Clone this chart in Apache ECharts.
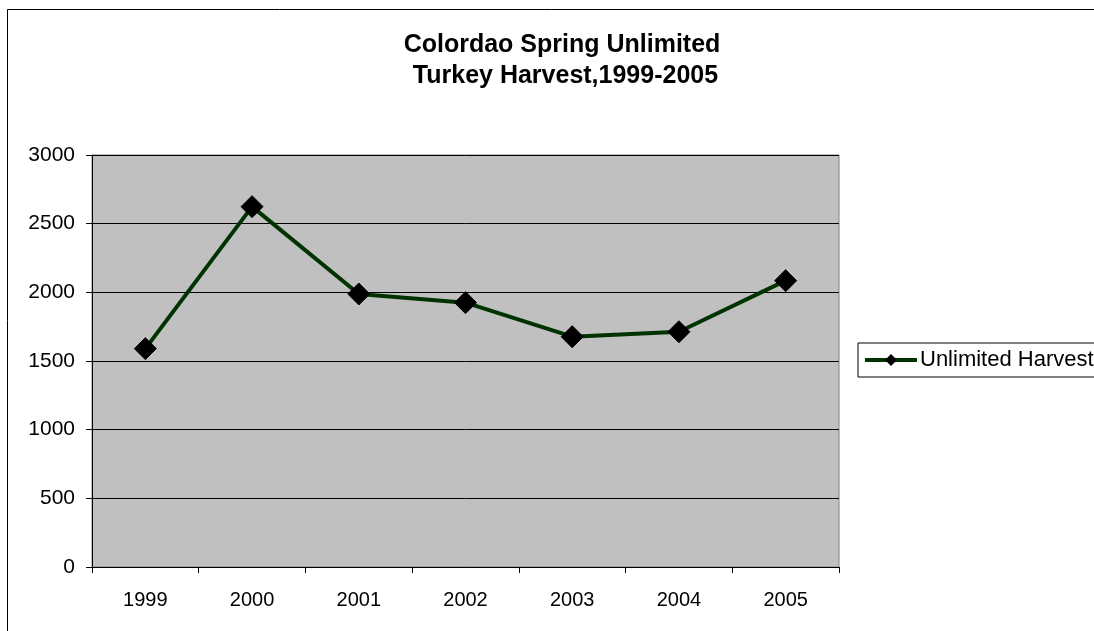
<!DOCTYPE html>
<html>
<head>
<meta charset="utf-8">
<script src="https://cdn.jsdelivr.net/npm/echarts@6/dist/echarts.min.js"></script>
<style>
html,body{margin:0;padding:0;background:#fff;}
#chart{width:1094px;height:631px;}
</style>
</head>
<body>
<div id="chart"></div>
<script>
var titleText = 'Colordao Spring Unlimited\n Turkey Harvest,1999-2005';
var seriesName = 'Unlimited Harvest';
var years = ['1999', '2000', '2001', '2002', '2003', '2004', '2005'];
var harvest = [1590, 2624, 1988, 1925, 1677, 1713, 2085];
var yTicks = { min: 0, max: 3000, interval: 500 };

var chart = echarts.init(document.getElementById('chart'), null, { renderer: 'canvas' });
var font = 'Liberation Sans, Arial, sans-serif';
chart.setOption({
  backgroundColor: '#fff',
  animation: false,
  graphic: [{
    type: 'rect', z: -1,
    shape: { x: 7.5, y: 9.5, width: 1200, height: 1000 },
    style: { fill: 'none', stroke: '#000', lineWidth: 1 }
  }],
  title: {
    text: titleText,
    left: 557, top: 25,
    textAlign: 'center',
    textStyle: { fontFamily: font, fontWeight: 'bold', fontSize: 25, lineHeight: 31, color: '#000' }
  },
  legend: {
    data: [seriesName],
    left: 858, top: 343,
    padding: [6, 6, 6, 5],
    itemWidth: 52, itemHeight: 15, itemGap: 3,
    borderColor: '#000', borderWidth: 1,
    lineStyle: { width: 4, color: '#003300' },
    textStyle: { fontFamily: font, fontSize: 22, color: '#000', padding: [0, 0, 0, -2] }
  },
  grid: {
    left: 92, top: 155, right: 255, bottom: 64,
    show: true, backgroundColor: '#c0c0c0', borderColor: '#808080', borderWidth: 1
  },
  xAxis: {
    type: 'category',
    data: years,
    boundaryGap: true,
    axisLine: { lineStyle: { color: '#000', width: 1 } },
    axisTick: { show: true, length: 6, lineStyle: { color: '#000' } },
    axisLabel: { fontFamily: font, fontSize: 20, color: '#000', margin: 23 },
    splitLine: { show: false }
  },
  yAxis: {
    type: 'value',
    min: yTicks.min, max: yTicks.max, interval: yTicks.interval,
    axisLine: { show: true, lineStyle: { color: '#000', width: 1 } },
    axisTick: { show: true, length: 6, lineStyle: { color: '#000' } },
    axisLabel: { fontFamily: font, fontSize: 21, color: '#000', margin: 17, formatter: function (v) { return String(v); } },
    splitLine: { show: true, lineStyle: { color: '#000', width: 1 } }
  },
  series: [{
    name: seriesName,
    type: 'line',
    data: harvest,
    symbol: 'diamond',
    symbolSize: 22,
    lineStyle: { color: '#003300', width: 4 },
    itemStyle: { color: '#000', borderColor: '#000' }
  }]
});
</script>
</body>
</html>
